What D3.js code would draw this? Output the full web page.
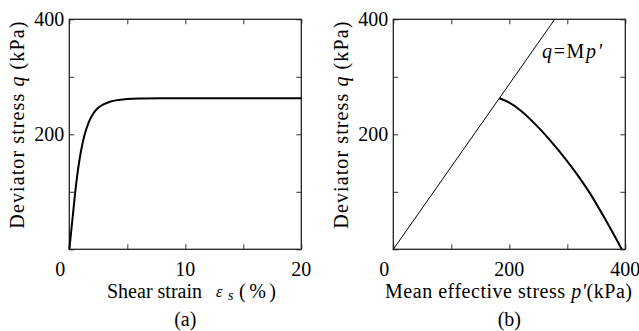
<!DOCTYPE html>
<html>
<head>
<meta charset="utf-8">
<script src="https://cdn.jsdelivr.net/npm/d3@7"></script>
<style>
  body { margin: 0; background: #fff; }
</style>
</head>
<body>
<div id="chart"></div>
<script>
// (a) shear strain (%) vs deviator stress q (kPa)
const strain = [0, 0.3, 0.6, 1.0, 1.3, 1.7, 2.1, 2.5, 3.0, 3.5, 4, 5, 6, 8, 20];
const qStrain = [0, 58, 115, 170, 198, 222, 237, 246, 252.5, 256.5, 259, 261.5, 262.3, 262.6, 262.6];
// (b) effective stress path
const pPath = [183, 200, 220, 253, 280, 296, 322, 340, 365, 394];
const qPath = [262.6, 255, 241, 209, 178, 158, 123, 96, 53, 0];
const M = 1.437;
const xTicksA = [0, 5, 10, 15, 20];
const xLabelsA = [0, 10, 20];
const xTicksB = [0, 100, 200, 300, 400];
const xLabelsB = [0, 200, 400];
const yTicks = [0, 100, 200, 300, 400];
const yLabels = [200, 400];

const W = 639, H = 331;
const svg = d3.select('#chart').append('svg')
  .attr('width', W).attr('height', H)
  .attr('font-family', '"Liberation Serif", "Times New Roman", serif')
  .style('display', 'block');

const yTop = 19.3, yBottom = 249.3, fs = 20;

function panel(opt) {
  const x = d3.scaleLinear().domain(opt.xDomain).range([opt.left, opt.left + 232]);
  const y = d3.scaleLinear().domain([0, 400]).range([yBottom, yTop]);
  const g = svg.append('g');

  // inward ticks on all four sides
  const tk = (axis) => axis.tickSizeInner(-5).tickSizeOuter(0).tickFormat('');
  [[d3.axisBottom(x), yBottom], [d3.axisTop(x), yTop]].forEach(([ax, ty]) => {
    g.append('g').attr('transform', `translate(0,${ty})`)
      .call(tk(ax.tickValues(opt.xTicks)))
      .call(s => s.select('.domain').remove())
      .selectAll('line').attr('stroke', '#333');
  });
  [[d3.axisLeft(y), opt.left], [d3.axisRight(y), opt.left + 232]].forEach(([ax, tx]) => {
    g.append('g').attr('transform', `translate(${tx},0)`)
      .call(tk(ax.tickValues(yTicks)))
      .call(s => s.select('.domain').remove())
      .selectAll('line').attr('stroke', '#333');
  });

  g.append('rect')
    .attr('x', opt.left).attr('y', yTop)
    .attr('width', 232).attr('height', yBottom - yTop)
    .attr('fill', 'none').attr('stroke', '#222').attr('stroke-width', 1.3);

  // tick labels
  g.selectAll('.xl').data(opt.xLabels).join('text')
    .attr('x', d => d === 0 ? x(d) - 9 : x(d))
    .attr('y', 276)
    .attr('text-anchor', 'middle')
    .attr('font-size', fs)
    .text(d => d);
  g.selectAll('.yl').data(yLabels).join('text')
    .attr('x', opt.left - 5)
    .attr('y', d => y(d) + 7)
    .attr('text-anchor', 'end')
    .attr('font-size', fs)
    .text(d => d);

  // y title
  const yt = g.append('text')
    .attr('transform', `translate(${opt.left - 45},${(yTop + 227) / 2 + 2}) rotate(-90)`)
    .attr('text-anchor', 'middle')
    .attr('font-size', fs)
    .attr('textLength', 207).attr('lengthAdjust', 'spacing');
  yt.append('tspan').text('Deviator stress ');
  yt.append('tspan').attr('font-style', 'italic').text('q');
  yt.append('tspan').text(' (kPa)');

  g.append('text')
    .attr('x', x.range()[0] + 116).attr('y', 326)
    .attr('text-anchor', 'middle').attr('font-size', fs)
    .text(opt.tag);
  return { g, x, y };
}

// panel (a)
const pa = panel({ left: 69.3, xDomain: [0, 20], xTicks: xTicksA, xLabels: xLabelsA, tag: '(a)' });
pa.g.append('path')
  .datum(strain.map((d, i) => [d, qStrain[i]]))
  .attr('fill', 'none').attr('stroke', '#000').attr('stroke-width', 2)
  .attr('d', d3.line().x(d => pa.x(d[0])).y(d => pa.y(d[1])).curve(d3.curveMonotoneX));

const xa = pa.g.append('g').attr('font-size', fs);
xa.append('text').attr('x', 107).attr('y', 298).text('Shear strain');
xa.append('text').attr('x', 216).attr('y', 297).attr('font-style', 'italic').attr('font-size', 16).text('ε');
xa.append('text').attr('x', 228).attr('y', 300).attr('font-style', 'italic').attr('font-size', 14).text('s');
xa.append('text').attr('x', 239).attr('y', 298)
  .attr('textLength', 37).attr('lengthAdjust', 'spacing').text('(%)');

// panel (b)
const pb = panel({ left: 393.3, xDomain: [0, 400], xTicks: xTicksB, xLabels: xLabelsB, tag: '(b)' });
pb.g.append('line')
  .attr('x1', pb.x(0)).attr('y1', pb.y(0))
  .attr('x2', pb.x(400 / M)).attr('y2', pb.y(400))
  .attr('stroke', '#000').attr('stroke-width', 1);
pb.g.append('path')
  .datum(pPath.map((d, i) => [d, qPath[i]]))
  .attr('fill', 'none').attr('stroke', '#000').attr('stroke-width', 2)
  .attr('d', d3.line().x(d => pb.x(d[0])).y(d => pb.y(d[1])).curve(d3.curveCatmullRom.alpha(0.5)));

const ml = pb.g.append('text').attr('x', 542).attr('y', 58).attr('font-size', fs)
  .attr('textLength', 60).attr('lengthAdjust', 'spacing');
ml.append('tspan').attr('font-style', 'italic').text('q');
ml.append('tspan').text('=M');
ml.append('tspan').attr('font-style', 'italic').text('p′');

const xb = pb.g.append('text').attr('x', 385).attr('y', 298).attr('font-size', fs)
  .attr('textLength', 247).attr('lengthAdjust', 'spacing');
xb.append('tspan').text('Mean effective stress ');
xb.append('tspan').attr('font-style', 'italic').text(' p′');
xb.append('tspan').text('(kPa)');
</script>
</body>
</html>
